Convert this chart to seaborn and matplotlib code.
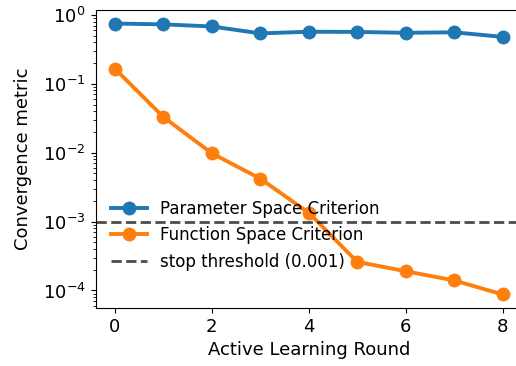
import matplotlib
matplotlib.use("Agg")
import matplotlib.pyplot as plt
import seaborn as sns
import numpy as np
import pandas as pd

rounds = [0, 1, 2, 3, 4, 5, 6, 7, 8]
param_space = [0.75, 0.73, 0.68, 0.54, 0.57, 0.567, 0.55, 0.56, 0.48]
func_space = [0.166, 0.033, 0.0098, 0.0042, 0.00134, 0.00026, 0.00019, 0.00014, 0.0000875]
threshold = 0.001

plt.rcParams['font.family'] = ['DejaVu Sans']

fig = plt.figure(figsize=(5.16, 3.66), dpi=100)
ax = fig.add_axes([95.5/516, 1 - 308/366, (522 - 95.5)/516, (308 - 10)/366])

df = pd.DataFrame({
    "round": rounds * 2,
    "value": param_space + func_space,
    "series": ["Parameter Space Criterion"] * len(rounds) + ["Function Space Criterion"] * len(rounds),
})
sns.lineplot(data=df, x="round", y="value", hue="series", marker="o", markersize=10,
             linewidth=2.8, markeredgewidth=0, palette=["#1f77b4", "#ff7f0e"], ax=ax)
ax.axhline(threshold, color="black", alpha=0.7, linestyle="--", linewidth=2, label="stop threshold (0.001)")
ax.set_yscale("log")
ax.set_xlabel("Active Learning Round", fontsize=13)
ax.set_ylabel("Convergence metric", fontsize=13, labelpad=8)
ax.tick_params(labelsize=13)
ax.set_xticks([0, 2, 4, 6, 8])
ax.legend(frameon=False, loc="lower left", bbox_to_anchor=(0.0, 0.075), fontsize=12,
          handlelength=2.2)
fig.savefig("out.png", dpi=100)
